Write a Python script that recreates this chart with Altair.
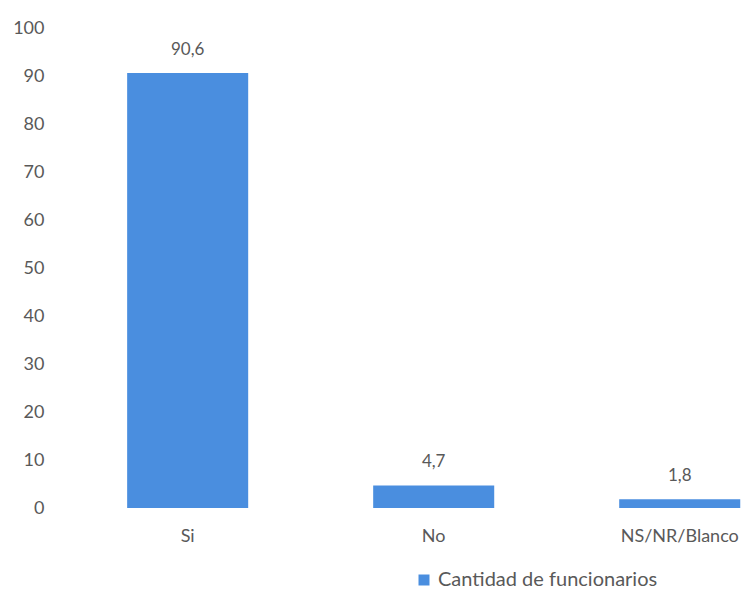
import altair as alt
import pandas as pd

categorias = ["Si", "No", "NS/NR/Blanco"]
valores = [90.6, 4.7, 1.8]
etiquetas = ["90,6", "4,7", "1,8"]
serie = "Cantidad de funcionarios"

df = pd.DataFrame({
    "categoria": categorias,
    "valor": valores,
    "etiqueta": etiquetas,
    "serie": [serie] * len(categorias),
})

FONT = "Lato"
GREY = "#595959"
BLUE = "#4A8EDF"

x = alt.X(
    "categoria:N",
    sort=categorias,
    title=None,
    scale=alt.Scale(paddingInner=0.508, paddingOuter=0.138, align=0.93),
    axis=alt.Axis(labelAngle=0, domain=False, ticks=False, labelPadding=19,
                  labelFontSize=18, labelColor=GREY, labelFont=FONT),
)
y = alt.Y(
    "valor:Q",
    title=None,
    scale=alt.Scale(domain=[0, 100], nice=False),
    axis=alt.Axis(values=list(range(0, 101, 10)), grid=False, domain=False,
                  ticks=False, labelPadding=20, labelFontSize=18,
                  labelColor=GREY, labelFont=FONT),
)

base = alt.Chart(df)

bars = base.mark_bar(color=BLUE).encode(
    x=x,
    y=y,
    color=alt.Color(
        "serie:N",
        title=None,
        scale=alt.Scale(range=[BLUE]),
        legend=alt.Legend(orient="none", legendX=350, legendY=542,
                          symbolType="square", symbolSize=121,
                          symbolStrokeWidth=0, labelFontSize=20,
                          labelLimit=400,
                          labelColor=GREY, labelFont=FONT),
    ),
)

labels = base.mark_text(
    baseline="bottom", dy=-14, fontSize=17, color=GREY, font=FONT
).encode(x=alt.X("categoria:N", sort=categorias), y="valor:Q", text="etiqueta:N")

chart = (bars + labels).properties(
    width=681,
    height=480,
    autosize=alt.AutoSizeParams(type="none"),
    padding={"left": 64, "top": 28, "right": 0, "bottom": 88},
    background="white",
).configure_view(stroke=None)

chart.save("out.html", embed_options={"renderer": "svg", "actions": False})
